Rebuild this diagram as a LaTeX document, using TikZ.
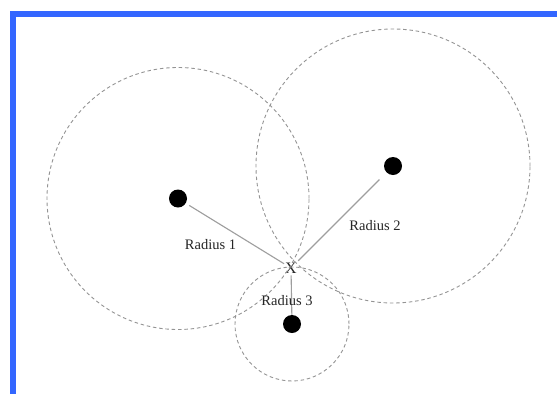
\documentclass[tikz,border=0pt]{standalone}
\usepackage{fontspec}
\setmainfont{Liberation Serif}
\begin{document}
\begin{tikzpicture}[x=1pt,y=-1pt,
  dashcirc/.style={draw=black!42,dash pattern=on 3.5pt off 2.8pt,line width=0.9pt},
  dot/.style={circle,fill=black,inner sep=0pt,minimum size=18pt},
  radline/.style={draw=black!38,line width=1.1pt},
  lbl/.style={font=\fontsize{14.5}{16}\selectfont,text=black!85,inner sep=0pt}]
\useasboundingbox (0,0) rectangle (557,394);
\fill[white] (0,0) rectangle (557,394);
% blue frame
\fill[fill={rgb,255:red,51;green,102;blue,255}] (10,11) rectangle (557,17);
\fill[fill={rgb,255:red,51;green,102;blue,255}] (10,11) rectangle (16,394);
% centres
\node[dot] (d1) at (178,198.5) {};
\node[dot] (d2) at (393,166) {};
\node[dot] (d3) at (292,324) {};
\node[lbl,font=\fontsize{16}{18}\selectfont,inner sep=1pt] (x) at (291,268) {X};
% circles
\draw[dashcirc] (d1.center) circle[radius=131pt];
\draw[dashcirc] (d2.center) circle[radius=137pt];
\draw[dashcirc] (d3.center) circle[radius=57pt];
% radius lines
\draw[radline,shorten <=4pt] (d1) -- (x);
\draw[radline,shorten <=10pt,shorten >=1pt] (d2) -- (x);
\draw[radline,shorten >=1pt] (d3) -- (x);
% labels
\node[lbl] (r1) at (210.5,245) {Radius 1};
\node[lbl] (r2) at (375,226) {Radius 2};
\node[lbl] (r3) at (287,301) {Radius 3};
\end{tikzpicture}
\end{document}
